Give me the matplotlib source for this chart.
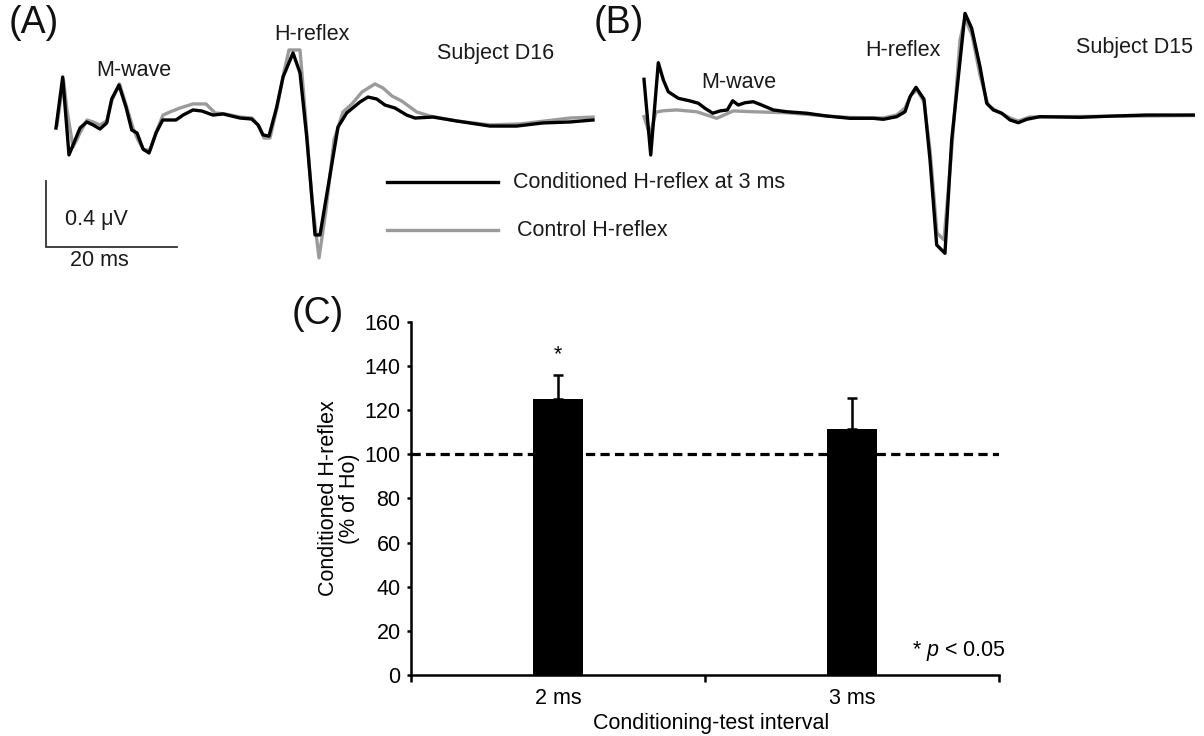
import matplotlib
matplotlib.use("Agg")
import matplotlib.pyplot as plt
from matplotlib.lines import Line2D
import numpy as np

plt.rcParams['font.family'] = ['Liberation Sans', 'DejaVu Sans']
plt.rcParams['mathtext.fontset'] = 'custom'
plt.rcParams['mathtext.it'] = 'Liberation Sans:italic'
plt.rcParams['mathtext.rm'] = 'Liberation Sans'

# ---------------- data: panel A (Subject D16), time in ms, amplitude in µV
a_cond_t = [0.15, 1.18, 2.14, 3.83, 4.85, 5.82, 6.89, 7.92, 8.68, 9.80, 10.87, 11.75,
            12.56, 13.48, 14.40, 15.47, 16.49, 18.53, 19.60, 21.13, 22.47, 24.20, 25.73,
            28.33, 30.12, 31.09, 31.85, 32.77, 33.95, 34.92, 36.45, 37.52, 38.55, 39.82,
            40.58, 41.81, 43.34, 44.67, 46.71, 47.93, 49.27, 50.54, 52.07, 53.86, 55.13,
            57.89, 61.52, 66.62, 70.70, 74.73, 78.87, 82.39]
a_cond_v = [-0.049, 0.262, -0.213, -0.049, -0.012, -0.030, -0.055, -0.018, 0.128, 0.213,
            0.079, -0.061, -0.079, -0.177, -0.201, -0.079, 0.0, 0.0, 0.030, 0.061, 0.055,
            0.030, 0.037, 0.012, 0.006, -0.030, -0.091, -0.098, 0.079, 0.262, 0.409, 0.287,
            -0.104, -0.701, -0.701, -0.409, -0.043, 0.043, 0.110, 0.140, 0.128, 0.091,
            0.073, 0.030, 0.012, 0.018, -0.006, -0.037, -0.037, -0.018, -0.012, 0.0]
a_ctrl_t = [0.31, 1.30, 1.84, 2.76, 3.83, 4.90, 5.82, 6.89, 7.92, 8.73, 9.88, 11.03,
            11.94, 12.71, 13.63, 14.55, 15.62, 16.54, 17.61, 19.14, 21.13, 23.12, 24.50,
            26.03, 28.33, 30.17, 31.24, 32.01, 32.92, 33.99, 35.07, 35.83, 37.52, 38.28,
            39.36, 40.43, 41.50, 42.73, 44.10, 45.48, 47.01, 49.00, 50.23, 51.61, 53.09,
            55.39, 57.43, 61.52, 66.62, 71.21, 75.04, 78.87, 82.39]
a_ctrl_v = [-0.030, 0.244, 0.061, -0.165, -0.079, 0.0, -0.012, -0.030, -0.006, 0.122,
            0.220, 0.073, -0.049, -0.122, -0.183, -0.183, -0.061, 0.030, 0.049, 0.073,
            0.098, 0.098, 0.043, 0.037, 0.018, 0.012, -0.037, -0.110, -0.110, 0.073,
            0.293, 0.427, 0.427, 0.061, -0.488, -0.841, -0.549, -0.122, 0.049, 0.098,
            0.171, 0.220, 0.195, 0.146, 0.116, 0.049, 0.024, -0.006, -0.030, -0.024,
            -0.006, 0.012, 0.018]

# ---------------- data: panel B (Subject D15)
b_cond_t = [0.0, 1.03, 2.19, 2.96, 3.72, 5.25, 7.04, 8.32, 9.34, 10.52, 11.64, 12.76,
            13.58, 14.44, 15.47, 16.74, 18.02, 19.80, 21.85, 24.92, 27.98, 31.55, 35.11,
            36.65, 38.70, 39.97, 40.74, 41.65, 42.88, 43.80, 44.82, 46.09, 47.12, 49.16,
            50.18, 51.45, 52.48, 53.49, 54.78, 56.05, 57.32, 58.61, 60.64, 66.77, 71.87,
            76.98, 84.12]
b_cond_v = [0.230, -0.232, 0.331, 0.226, 0.154, 0.114, 0.098, 0.084, 0.053, 0.023, 0.037,
            0.043, 0.099, 0.073, 0.087, 0.093, 0.073, 0.043, 0.032, 0.023, 0.006, -0.008,
            -0.008, -0.014, 0.002, 0.032, 0.124, 0.181, 0.108, -0.262, -0.780, -0.831,
            -0.140, 0.632, 0.541, 0.307, 0.084, 0.043, 0.023, -0.018, -0.035, -0.014,
            0.002, -0.002, 0.006, 0.012, 0.012]
b_ctrl_t = [0.0, 0.92, 1.84, 2.96, 5.01, 8.07, 11.13, 13.68, 16.74, 21.85, 27.98, 31.55,
            36.65, 38.70, 39.97, 40.89, 41.81, 42.88, 43.80, 44.87, 45.94, 47.12, 48.39,
            49.16, 50.23, 51.45, 52.68, 53.75, 56.05, 57.27, 59.11, 66.77, 76.98, 84.12]
b_ctrl_v = [0.002, -0.110, 0.030, 0.038, 0.043, 0.032, -0.008, 0.037, 0.032, 0.026,
            0.006, -0.003, -0.006, 0.012, 0.055, 0.134, 0.165, 0.091, -0.201, -0.707,
            -0.750, -0.201, 0.470, 0.604, 0.500, 0.256, 0.073, 0.043, -0.006, -0.024,
            0.0, 0.003, 0.006, 0.009]

# ---------------- data: panel C
intervals = ["2 ms", "3 ms"]
cond_mean = [125.0, 111.5]
cond_sem = [11.0, 14.0]
sig_marks = ["*", ""]

legend_labels = ["Conditioned H-reflex at 3 ms", "Control H-reflex"]

# ---------------- layout helpers
W, H = 1204, 736
PX_PER_MS = 6.53
PX_PER_UV = 164.0
BLACK = "#000000"
GRAY = "#9b9b9b"
TXT = "#1a1a1a"
FS = 15.5

fig = plt.figure(figsize=(W / 100, H / 100), dpi=100)

def fx(px):
    return px / W

def fy(py):
    return 1 - py / H

def trace_axes(left_px, right_px, t0_px, base_px):
    ax = fig.add_axes([fx(left_px), fy(280), (right_px - left_px) / W, 280 / H])
    ax.set_xlim((left_px - t0_px) / PX_PER_MS, (right_px - t0_px) / PX_PER_MS)
    ax.set_ylim((base_px - 280) / PX_PER_UV, base_px / PX_PER_UV)
    ax.axis("off")
    return ax

axA = trace_axes(0, 600, 55, 120)
axB = trace_axes(600, 1204, 644, 117)

lw_tr = 2.4
for ax, (ct, cv, kt, kv) in [(axA, (a_ctrl_t, a_ctrl_v, a_cond_t, a_cond_v)),
                             (axB, (b_ctrl_t, b_ctrl_v, b_cond_t, b_cond_v))]:
    ax.plot(ct, cv, color=GRAY, lw=lw_tr, solid_joinstyle="round", clip_on=False, zorder=2)
    ax.plot(kt, kv, color=BLACK, lw=lw_tr, solid_joinstyle="round", clip_on=False, zorder=3)

# scale bar (20 ms, 0.4 µV)
sb_t0, sb_v0 = (46 - 55) / PX_PER_MS, (120 - 247) / PX_PER_UV
axA.plot([sb_t0, sb_t0, sb_t0 + 20], [sb_v0 + 0.4, sb_v0, sb_v0], color="#333333",
         lw=1.3, solid_joinstyle="miter", clip_on=False)
fig.text(fx(65), fy(220), "0.4 \u03bcV", fontsize=FS, ha="left", va="center", color=TXT)
fig.text(fx(70), fy(260), "20 ms", fontsize=FS, ha="left", va="center", color=TXT)

# legend (drawn by hand)
for y, col, lab, xt in [(182, BLACK, legend_labels[0], 513), (230, GRAY, legend_labels[1], 517)]:
    fig.add_artist(Line2D([fx(387), fx(498)], [fy(y), fy(y)], color=col, lw=lw_tr))
    fig.text(fx(xt), fy(y), lab, fontsize=FS, ha="left", va="center", color=TXT)

# panel annotations
for txt, x, y in [("M-wave", 134, 70), ("H-reflex", 312, 35), ("Subject D16", 496, 53),
                  ("M-wave", 739, 82), ("H-reflex", 903, 51), ("Subject D15", 1134, 48)]:
    fig.text(fx(x), fy(y), txt, fontsize=FS, ha="center", va="center", color=TXT)

for txt, x, y in [("(A)", 34, 23), ("(B)", 619, 23), ("(C)", 318, 314)]:
    fig.text(fx(x), fy(y), txt, fontsize=27, ha="center", va="center", color="#111111")

# ---------------- panel C
axC = fig.add_axes([fx(411), fy(675), 588 / W, (675 - 321.7) / H])
xpos = np.arange(len(intervals)) + 0.5
axC.bar(xpos, cond_mean, width=0.172, color=BLACK, zorder=3)
axC.errorbar(xpos, cond_mean, yerr=[np.zeros(len(cond_sem)), cond_sem], fmt="none",
             ecolor=BLACK, elinewidth=1.8, capsize=3.8, capthick=1.8, zorder=4)
axC.axhline(100, color=BLACK, lw=2.3, ls=(0, (2.9, 1.65)), zorder=2)
for x, m, s, mk in zip(xpos, cond_mean, cond_sem, sig_marks):
    if mk:
        axC.text(x, m + s + 6.5, mk, fontsize=FS, ha="center", va="baseline")

axC.set_xlim(0, 2)
axC.set_ylim(0, 160)
axC.set_yticks(np.arange(0, 161, 20))
axC.set_xticks(xpos)
axC.set_xticklabels(intervals)
axC.set_xticks([0, 1, 2], minor=True)
axC.tick_params(axis="x", which="major", length=0, pad=9, labelsize=FS)
axC.tick_params(axis="x", which="minor", length=5, width=1.8, direction="out")
axC.tick_params(axis="y", length=3, width=1.8, pad=4.5, labelsize=FS)
for sp in ["top", "right"]:
    axC.spines[sp].set_visible(False)
for sp in ["left", "bottom"]:
    axC.spines[sp].set_linewidth(1.8)
axC.set_ylabel("Conditioned H-reflex\n(% of Ho)", fontsize=FS, linespacing=1.0)
axC.yaxis.set_label_coords(-0.086, 0.5)
axC.set_xlabel("Conditioning-test interval", fontsize=FS)
axC.xaxis.set_label_coords(0.51, -0.108)
axC.text(1.012, 0.068, "* $p$ < 0.05", transform=axC.transAxes, fontsize=FS,
         ha="right", va="center")

fig.savefig("out.png", dpi=100)
